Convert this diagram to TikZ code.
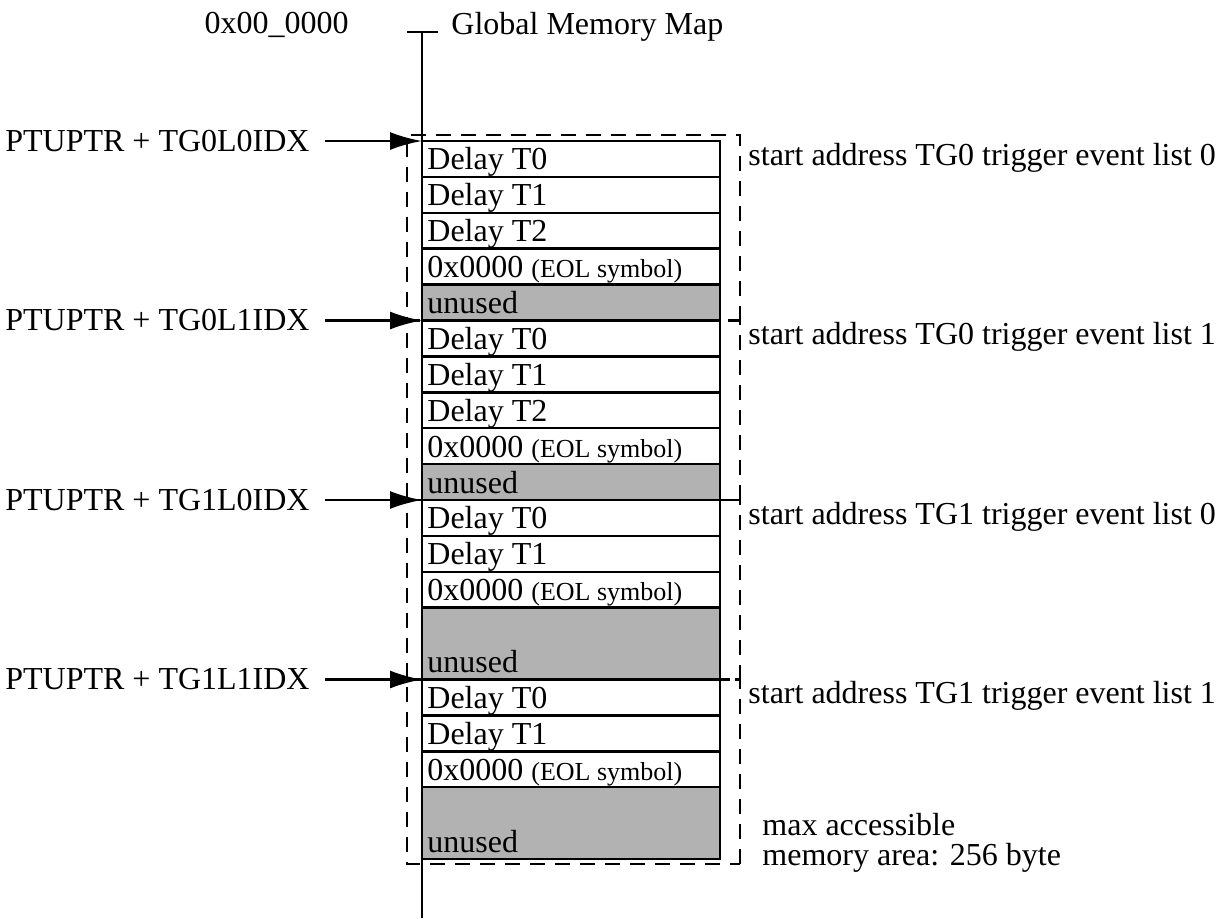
\documentclass[tikz,border=0pt]{standalone}
\usepackage{fontspec}
\setmainfont{Liberation Serif}
\usepackage{tikz}
\usetikzlibrary{arrows.meta,positioning}

\newcommand{\eolsym}{0x0000 {\fontsize{13}{13}\selectfont(EOL symbol)}}

\tikzset{
    cell/.style={line width=1.25pt},
    unused/.style={cell, fill=gray!60},
    celltext/.style={anchor=base west, inner sep=0pt},
    region/.style={line width=1.25pt, dash pattern=on 7.5pt off 5pt},
    ptr/.style={line width=1.25pt, -{Latex[length=16pt,width=9pt]}},
    ptrlabel/.style={anchor=east, inner xsep=7.5pt, inner ysep=0pt},
    startlabel/.style={anchor=base west, inner sep=0pt},
}

\begin{document}
\begin{tikzpicture}[x=0.5pt, y=-0.5pt,
    every node/.style={font=\fontsize{16}{19}\selectfont}]

    \useasboundingbox (0,0) rectangle (1225,918);

    % Memory axis
    \coordinate (axtop) at (422,32);
    \coordinate (axbot) at (422,918);
    \draw[line width=1.25pt] (axtop) -- (axbot);
    \draw[line width=1.25pt] (407,32) -- (438,32);
    \node[anchor=base west, inner sep=0pt] (gmm) at (451,34) {Global Memory Map};
    \node[anchor=base east, inner sep=0pt] (base) at (349,33) {0x00\_0000};

    % Cells
    \foreach \t/\b/\txt/\kind [count=\i] in {
        141/176.9/Delay T0/cell, 176.9/212.8/Delay T1/cell,
        212.8/248.7/Delay T2/cell, 248.7/284.6/\eolsym/cell,
        284.6/320.5/unused/unused,
        320.5/356.4/Delay T0/cell, 356.4/392.3/Delay T1/cell,
        392.3/428.2/Delay T2/cell, 428.2/464.1/\eolsym/cell,
        464.1/500/unused/unused,
        500/535.9/Delay T0/cell, 535.9/571.8/Delay T1/cell,
        571.8/607.7/\eolsym/cell, 607.7/679.5/unused/unused,
        679.5/715.4/Delay T0/cell, 715.4/751.3/Delay T1/cell,
        751.3/787.2/\eolsym/cell, 787.2/859/unused/unused} {
        \draw[\kind] (422,\t) rectangle (720,\b);
        \node[celltext] (r\i) at (427,\b-7) {\txt};
    }

    % Event list regions
    \foreach \t/\b in {135/320.5, 320.5/500, 500/679.5, 679.5/864} {
        \draw[region] (740,\b) -- (740,\t) -- (407,\t) -- (407,\b) -- cycle;
    }

    % Pointers
    \foreach \y/\lbl/\rtxt [count=\i] in {
        141/TG0L0IDX/TG0 trigger event list 0,
        320.5/TG0L1IDX/TG0 trigger event list 1,
        500/TG1L0IDX/TG1 trigger event list 0,
        679.5/TG1L1IDX/TG1 trigger event list 1} {
        \coordinate (s\i) at (422,\y);
        \node[ptrlabel] (p\i) at (325,\y) {PTUPTR + \lbl};
        \draw[ptr] (p\i) -- (s\i);
        \node[startlabel] (a\i) at (748,\y+24) {start address \rtxt};
    }

    \node[anchor=base west, inner sep=0pt] (max1) at (762,835) {max accessible};
    \node[anchor=base west, inner sep=0pt] (max2) at (762,865) {memory area: 256 byte};

\end{tikzpicture}
\end{document}
